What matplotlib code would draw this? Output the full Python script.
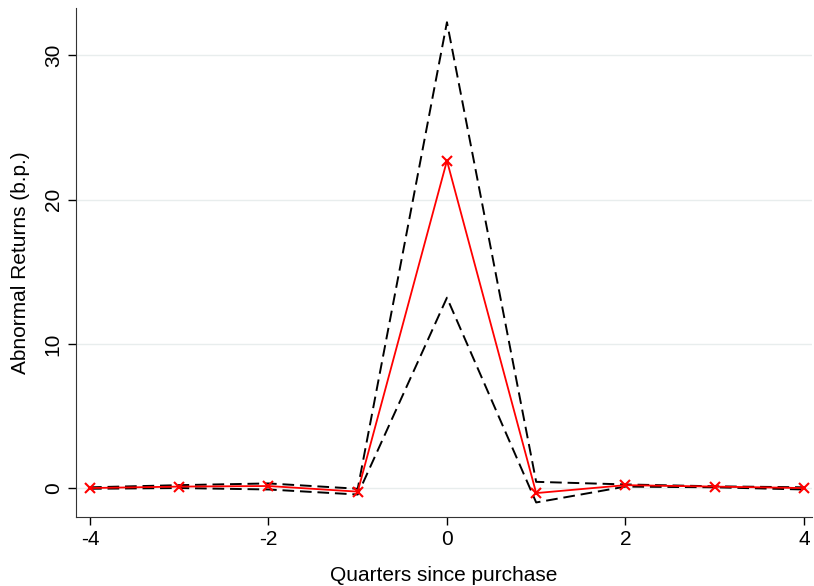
import matplotlib.pyplot as plt

plt.rcParams["font.family"] = ["Liberation Sans", "DejaVu Sans"]

quarters = [-4, -3, -2, -1, 0, 1, 2, 3, 4]
estimate = [0.0, 0.1, 0.14, -0.25, 22.7, -0.35, 0.2, 0.1, 0.0]
upper_ci = [0.05, 0.2, 0.32, -0.05, 32.3, 0.43, 0.25, 0.12, 0.05]
lower_ci = [-0.05, 0.0, -0.1, -0.45, 13.2, -1.0, 0.1, 0.05, -0.1]

yticks = [0, 10, 20, 30]
xticks = [-4, -2, 0, 2, 4]

fig = plt.figure(figsize=(8.14, 5.86), dpi=100)
ax = fig.add_axes([0.0934, 0.1177, 0.904, 0.868])

for y in yticks:
    ax.axhline(y, color="#e8eded", lw=1.0, zorder=0)

ax.plot(quarters, upper_ci, color="black", lw=1.4, ls=(0, (6, 3)))
ax.plot(quarters, lower_ci, color="black", lw=1.4, ls=(0, (6, 3)))
ax.plot(quarters, estimate, color="red", lw=1.3, marker="x", ms=7, mew=1.5)

ax.set_xlim(-4.157, 4.09)
ax.set_ylim(-2.01, 33.26)
ax.set_xticks(xticks)
ax.set_yticks(yticks)
ax.set_xticklabels([str(v) for v in xticks])
ax.set_yticklabels([str(v) for v in yticks], rotation=90, va="center")
ax.tick_params(labelsize=15, length=6, width=1, direction="out", colors="black")
ax.spines["top"].set_visible(False)
ax.spines["right"].set_visible(False)
ax.spines["left"].set_color("#333333")
ax.spines["bottom"].set_color("#333333")

ax.set_xlabel("Quarters since purchase", fontsize=15, labelpad=12)
ax.set_ylabel("Abnormal Returns (b.p.)", fontsize=15, labelpad=10)

fig.savefig("out.png", dpi=100)
